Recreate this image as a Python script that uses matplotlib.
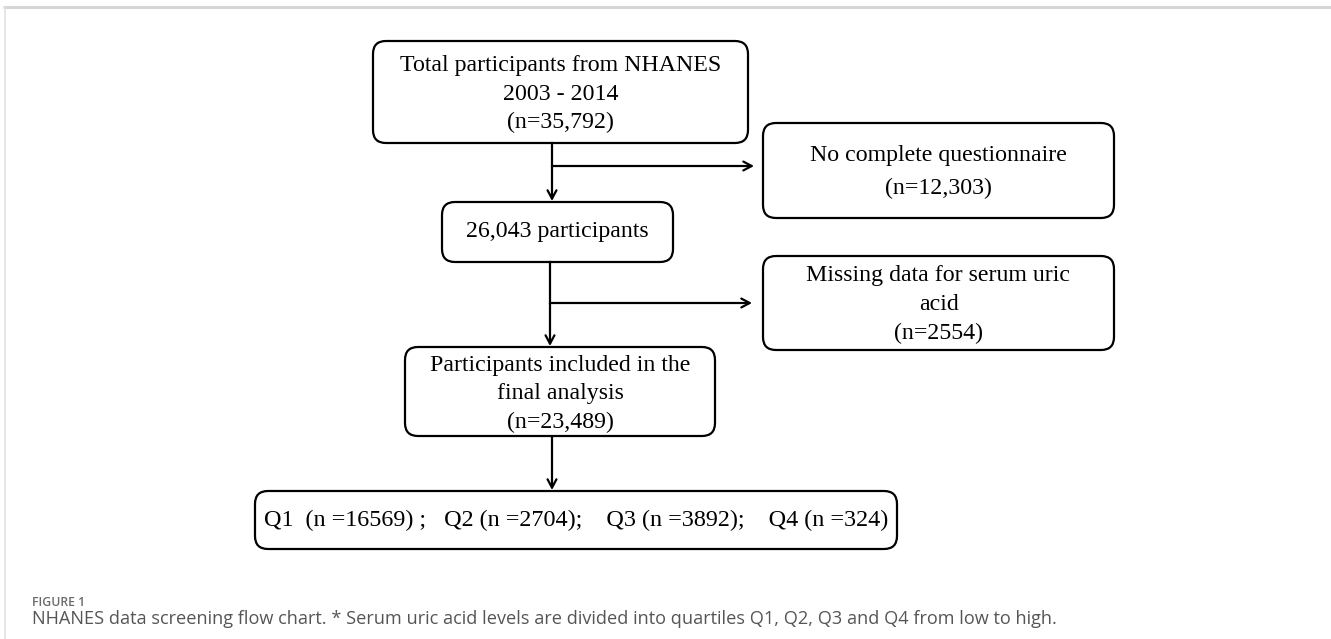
import matplotlib
matplotlib.use("Agg")
import matplotlib.pyplot as plt
from matplotlib.patches import FancyBboxPatch

# ---- content ----
total_label = ["Total participants from NHANES", "2003 - 2014", "(n=35,792)"]
excl1_label = ["No complete questionnaire", "(n=12,303)"]
step2_label = ["26,043 participants"]
excl2_label = ["Missing data for serum uric", "acid", "(n=2554)"]
final_label = ["Participants included in the", "final analysis", "(n=23,489)"]
quartile_names = ["Q1", "Q2", "Q3", "Q4"]
quartile_n = [16569, 2704, 3892, 324]
caption_head = "FIGURE 1"
caption_text = ("NHANES data screening flow chart. * Serum uric acid levels are divided "
                "into quartiles Q1, Q2, Q3 and Q4 from low to high.")

W, H = 1331, 639
fig = plt.figure(figsize=(W / 100, H / 100), dpi=100)
ax = fig.add_axes([0, 0, 1, 1])
ax.set_xlim(0, W)
ax.set_ylim(H, 0)
ax.axis("off")

SERIF = "Liberation Serif"
FS = 17.2
LW = 1.6

# frame lines (light grey)
ax.plot([3, W], [7, 7], color="#d6d6d6", lw=2.2, solid_capstyle="butt")
ax.plot([4.5, 4.5], [7, H], color="#e2e2e2", lw=1.2, solid_capstyle="butt")


def box(x0, y0, x1, y1, lines, ys, fs=FS):
    p = FancyBboxPatch((x0, y0), x1 - x0, y1 - y0,
                       boxstyle="round,pad=0,rounding_size=13",
                       fc="white", ec="black", lw=LW)
    ax.add_patch(p)
    cx = (x0 + x1) / 2
    for t, y in zip(lines, ys):
        ax.text(cx, y, t, ha="center", va="center", fontsize=fs,
                family=SERIF, color="black")


def arrow(x0, y0, x1, y1):
    ax.annotate("", xy=(x1, y1), xytext=(x0, y0),
                arrowprops=dict(arrowstyle="->,head_length=0.6,head_width=0.32",
                                lw=LW, color="black", shrinkA=0, shrinkB=0))


# boxes
box(373, 41, 748, 143, total_label, [66, 94, 122])
box(763, 123, 1114, 218, excl1_label, [155, 188])
box(442, 202, 673, 262, step2_label, [232])
box(763, 256, 1114, 350, excl2_label, [275, 304, 333])
box(405, 347, 715, 436, final_label, [366, 394, 422])

q_text = "{}  (n ={}) ;   {} (n ={});    {} (n ={});    {} (n ={})".format(
    quartile_names[0], quartile_n[0], quartile_names[1], quartile_n[1],
    quartile_names[2], quartile_n[2], quartile_names[3], quartile_n[3])
box(255, 491, 897, 549, [q_text], [520], fs=17.4)

# connectors
ax.plot([552, 552], [143, 166], color="black", lw=LW)
arrow(552, 166, 552, 201)
arrow(552, 166, 754, 166)

ax.plot([550, 550], [262, 303], color="black", lw=LW)
arrow(550, 303, 550, 346)
arrow(550, 303, 752, 303)

arrow(552, 436, 552, 490)

# caption
ax.text(32, 603, caption_head, ha="left", va="center", fontsize=8.8,
        family="Open Sans", color="#6b6b6b", fontweight="semibold")
ax.text(32, 619, caption_text, ha="left", va="center", fontsize=13.05,
        family="Open Sans", color="#555555")

fig.savefig("out.png", dpi=100)
